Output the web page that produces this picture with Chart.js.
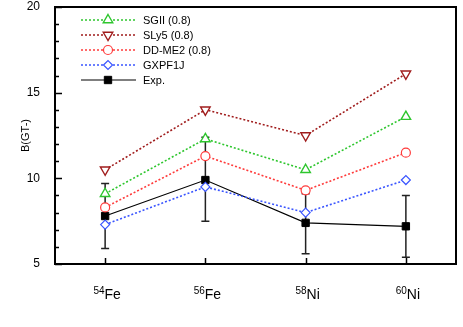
<!DOCTYPE html>
<html>
<head>
<meta charset="utf-8">
<script src="https://cdn.jsdelivr.net/npm/chart.js@4.4.1/dist/chart.umd.min.js"></script>
<style>
  html, body { margin: 0; padding: 0; background: #fff; }
  #wrap { width: 463px; height: 327px; }
</style>
</head>
<body>
<div id="wrap"><canvas id="gt-chart" width="463" height="327"></canvas></div>
<script>
const massNumbers = ["54", "56", "58", "60"];
const elements = ["Fe", "Fe", "Ni", "Ni"];
const categories = massNumbers.map((m, i) => m + elements[i]);

const sgii = [9.1, 12.3, 10.5, 13.6];
const sly5 = [10.5, 14.0, 12.5, 16.1];
const ddme2 = [8.3, 11.3, 9.3, 11.5];
const gxpf1j = [7.3, 9.5, 8.0, 9.9];
const expValues = [7.8, 9.9, 7.4, 7.2];
const expLow = [5.9, 7.5, 5.6, 5.4];
const expHigh = [9.7, 12.4, 9.1, 9.0];

const FONT = "'Liberation Sans', Arial, Helvetica, sans-serif";

// inside ticks, frame, error bars, custom legend and x labels
const decorations = {
  id: "decorations",
  beforeDatasetsDraw(chart) {
    const ctx = chart.ctx;
    const x = chart.scales.x, y = chart.scales.y;
    ctx.save();
    ctx.strokeStyle = "#222";
    ctx.lineWidth = 1.5;
    expValues.forEach((v, i) => {
      const px = x.getPixelForValue(i);
      const top = y.getPixelForValue(expHigh[i]);
      const bot = y.getPixelForValue(expLow[i]);
      ctx.beginPath();
      ctx.moveTo(px, top); ctx.lineTo(px, bot);
      ctx.moveTo(px - 4, top); ctx.lineTo(px + 4, top);
      ctx.moveTo(px - 4, bot); ctx.lineTo(px + 4, bot);
      ctx.stroke();
    });
    ctx.restore();
  },
  afterDraw(chart) {
    const ctx = chart.ctx;
    const area = chart.chartArea;
    const x = chart.scales.x, y = chart.scales.y;
    ctx.save();
    ctx.strokeStyle = "#000";
    ctx.lineWidth = 1.5;
    ctx.beginPath();
    for (let v = 5; v <= 20; v++) {
      const py = Math.round(y.getPixelForValue(v)) + 0.5;
      const len = v % 5 === 0 ? 7 : 4;
      ctx.moveTo(area.left, py);
      ctx.lineTo(area.left + len, py);
    }
    categories.forEach((c, i) => {
      const px = Math.round(x.getPixelForValue(i)) + 0.5;
      ctx.moveTo(px, area.bottom);
      ctx.lineTo(px, area.bottom - 6);
    });
    ctx.stroke();

    // top and right frame
    ctx.lineWidth = 2;
    ctx.beginPath();
    ctx.moveTo(area.left, area.top);
    ctx.lineTo(area.right, area.top);
    ctx.lineTo(area.right, area.bottom);
    ctx.stroke();

    // x labels with superscript mass numbers
    ctx.fillStyle = "#000";
    ctx.textBaseline = "alphabetic";
    ctx.textAlign = "left";
    categories.forEach((c, i) => {
      const px = x.getPixelForValue(i) + 2;
      ctx.font = "10px " + FONT;
      const wm = ctx.measureText(massNumbers[i]).width;
      ctx.font = "14px " + FONT;
      const we = ctx.measureText(elements[i]).width;
      const start = px - (wm + we) / 2;
      ctx.font = "10px " + FONT;
      ctx.fillText(massNumbers[i], start, 294);
      ctx.font = "14px " + FONT;
      ctx.fillText(elements[i], start + wm, 299);
    });

    // legend: line + marker + label
    const rowY = [20, 35, 50, 65, 80];
    chart.data.datasets.forEach((ds, i) => {
      const ly = rowY[i];
      ctx.setLineDash(ds.borderDash || []);
      ctx.strokeStyle = ds.borderColor;
      ctx.lineWidth = ds.borderWidth;
      ctx.beginPath();
      ctx.moveTo(81, ly);
      ctx.lineTo(136, ly);
      ctx.stroke();
      ctx.setLineDash([]);
      ctx.fillStyle = ds.pointBackgroundColor;
      ctx.strokeStyle = ds.borderColor;
      ctx.lineWidth = ds.pointBorderWidth;
      if (Chart.helpers && Chart.helpers.drawPoint) {
        Chart.helpers.drawPoint(ctx, {
          pointStyle: ds.pointStyle,
          radius: ds.pointRadius,
          rotation: ds.pointRotation || 0,
          borderWidth: ds.pointBorderWidth
        }, 108, ly);
      }
      ctx.fillStyle = "#000";
      ctx.font = "11px " + FONT;
      ctx.textBaseline = "middle";
      ctx.fillText(ds.label, 143, ly + 0.5);
    });
    ctx.restore();
  }
};

const gtChart = new Chart(document.getElementById("gt-chart"), {
  type: "line",
  data: {
    labels: categories,
    datasets: [
      {
        label: "SGII (0.8)",
        data: sgii,
        borderColor: "#2ec62e",
        borderDash: [2, 2],
        borderWidth: 1.6,
        pointStyle: "triangle",
        pointRadius: 5.5,
        pointBorderWidth: 1.4,
        pointBackgroundColor: "#fff",
      },
      {
        label: "SLy5 (0.8)",
        data: sly5,
        borderColor: "#a01c1c",
        borderDash: [2, 2],
        borderWidth: 1.6,
        pointStyle: "triangle",
        pointRotation: 180,
        pointRadius: 5.5,
        pointBorderWidth: 1.4,
        pointBackgroundColor: "#fff",
      },
      {
        label: "DD-ME2 (0.8)",
        data: ddme2,
        borderColor: "#ff3b3b",
        borderDash: [2, 2],
        borderWidth: 1.6,
        pointStyle: "circle",
        pointRadius: 4.5,
        pointBorderWidth: 1.2,
        pointBackgroundColor: "#fff",
      },
      {
        label: "GXPF1J",
        data: gxpf1j,
        borderColor: "#3a55ff",
        borderDash: [2, 2],
        borderWidth: 1.6,
        pointStyle: "rectRot",
        pointRadius: 4.5,
        pointBorderWidth: 1.2,
        pointBackgroundColor: "#fff",
      },
      {
        label: "Exp.",
        data: expValues,
        borderColor: "#000",
        borderWidth: 1.2,
        pointStyle: "rect",
        pointRadius: 5.2,
        pointBorderWidth: 1,
        pointBackgroundColor: "#000",
      },
    ],
  },
  options: {
    responsive: false,
    animation: false,
    devicePixelRatio: 1,
    layout: { padding: { top: 7, right: 7, left: 0, bottom: 0 } },
    elements: { line: { tension: 0 } },
    plugins: {
      legend: { display: false },
      tooltip: { enabled: false },
    },
    scales: {
      x: {
        type: "category",
        offset: true,
        grid: { display: false },
        border: { display: true, color: "#000", width: 2 },
        ticks: { display: false },
        afterFit: (s) => { s.height = 63; s.paddingLeft = 0; s.paddingRight = 0; },
      },
      y: {
        min: 5,
        max: 20,
        grid: { display: false },
        border: { display: true, color: "#000", width: 2 },
        ticks: {
          stepSize: 5,
          color: "#000",
          padding: 7,
          font: { family: FONT, size: 12 },
        },
        title: {
          display: true,
          text: "B(GT-)",
          color: "#000",
          font: { family: FONT, size: 11 },
          padding: { top: 19, bottom: 0 },
        },
        afterFit: (s) => { s.width = 55; s.paddingTop = 0; s.paddingBottom = 0; },
      },
    },
  },
  plugins: [decorations],
});
</script>
</body>
</html>
